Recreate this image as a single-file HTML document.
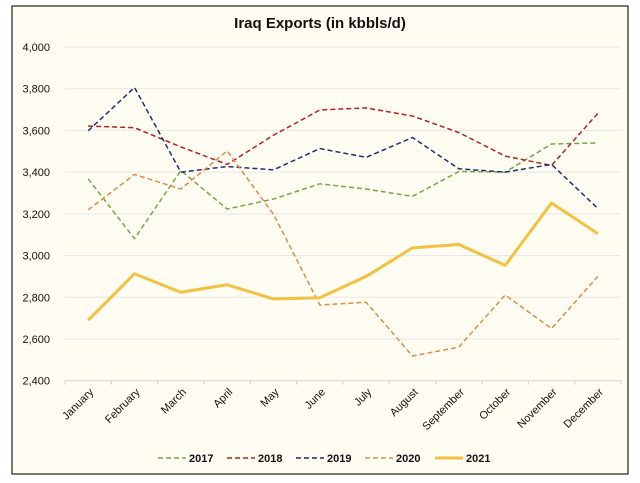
<!DOCTYPE html>
<html><head><meta charset="utf-8"><style>
body{margin:0;background:#fff;}
svg{display:block;font-family:"Liberation Sans",sans-serif;}
</style></head><body>
<svg id="chart" width="640" height="483">
<rect x="12" y="6" width="616" height="468" fill="#fffcf2" stroke="#222" stroke-width="1.2"/>
<text x="320" y="28" text-anchor="middle" font-size="15" font-weight="bold" fill="#111">Iraq Exports (in kbbls/d)</text>
<g id="grid"></g><g id="series"></g><g id="legend"></g>
</svg>
<script>
const months=["January","February","March","April","May","June","July","August","September","October","November","December"];
const yTicks=[2400,2600,2800,3000,3200,3400,3600,3800,4000];
const years=["2017","2018","2019","2020","2021"];
const s2017=[3368,3081,3408,3223,3271,3344,3319,3284,3403,3400,3535,3540];
const s2018=[3621,3613,3521,3437,3577,3698,3708,3669,3590,3477,3432,3682];
const s2019=[3598,3806,3400,3427,3411,3513,3471,3566,3416,3400,3437,3226];
const s2020=[3219,3389,3319,3502,3198,2763,2776,2518,2561,2811,2650,2900];
const s2021=[2690,2913,2824,2860,2792,2798,2900,3037,3053,2953,3252,3105];
const NS="http://www.w3.org/2000/svg";
const L=65,R=621,T=47,B=380.7;
const x=i=>L+(R-L)/12*(i+0.5);
const y=v=>B-(v-2400)/1600*(B-T);
function mk(t,a,p){const e=document.createElementNS(NS,t);for(const k in a)e.setAttribute(k,a[k]);p.appendChild(e);return e;}
const g=document.getElementById('grid');
yTicks.forEach(v=>{
 const ln=mk('line',{x1:L,x2:R,y1:y(v),y2:y(v),stroke:v===2400?'#d0d0d0':'#e6e6e6','stroke-width':1},g);
 
 
 const t=mk('text',{x:50,y:y(v)+4,'text-anchor':'end','font-size':11,fill:'#111'},g);
 t.textContent=v.toLocaleString('en-US');
 
 
});
for(let i=0;i<=12;i++){
 const tk=mk('line',{x1:L+(R-L)/12*i,x2:L+(R-L)/12*i,y1:B,y2:B+4,stroke:'#d0d0d0'},g);
 
 
}
months.forEach((m,i)=>{
 const t=mk('text',{x:x(i)+6,y:B+12,'text-anchor':'end','font-size':11,fill:'#111',transform:`rotate(-45 ${x(i)+6} ${B+12})`},g);
 t.textContent=m;
 
 
});
const data=[s2017,s2018,s2019,s2020,s2021];
const colors=['#70a845','#b22222','#1f2f6b','#e08a4a','#f2c140'];
const widths=[1.5,1.5,1.5,1.5,3];
const dashes=['5,3','5,3','5,3','5,3','none'];
const sg=document.getElementById('series');
data.forEach((d,k)=>{
 const p=mk('polyline',{points:d.map((v,i)=>x(i)+','+y(v)).join(' '),fill:'none',stroke:colors[k],'stroke-width':widths[k],'stroke-dasharray':dashes[k],'stroke-linejoin':'round'},sg);
 
 
});
const lg=document.getElementById('legend');
const lx=[158,227,296,365,435];
years.forEach((yr,k)=>{
 const e=mk('g',{},lg);
 
 
 mk('line',{x1:lx[k],x2:lx[k]+28,y1:458,y2:458,stroke:colors[k],'stroke-width':widths[k],'stroke-dasharray':dashes[k]},e);
 const t=mk('text',{x:lx[k]+31,y:462,'font-size':11,'font-weight':'bold',fill:'#111'},e);
 t.textContent=yr;
});
</script>
</body></html>
